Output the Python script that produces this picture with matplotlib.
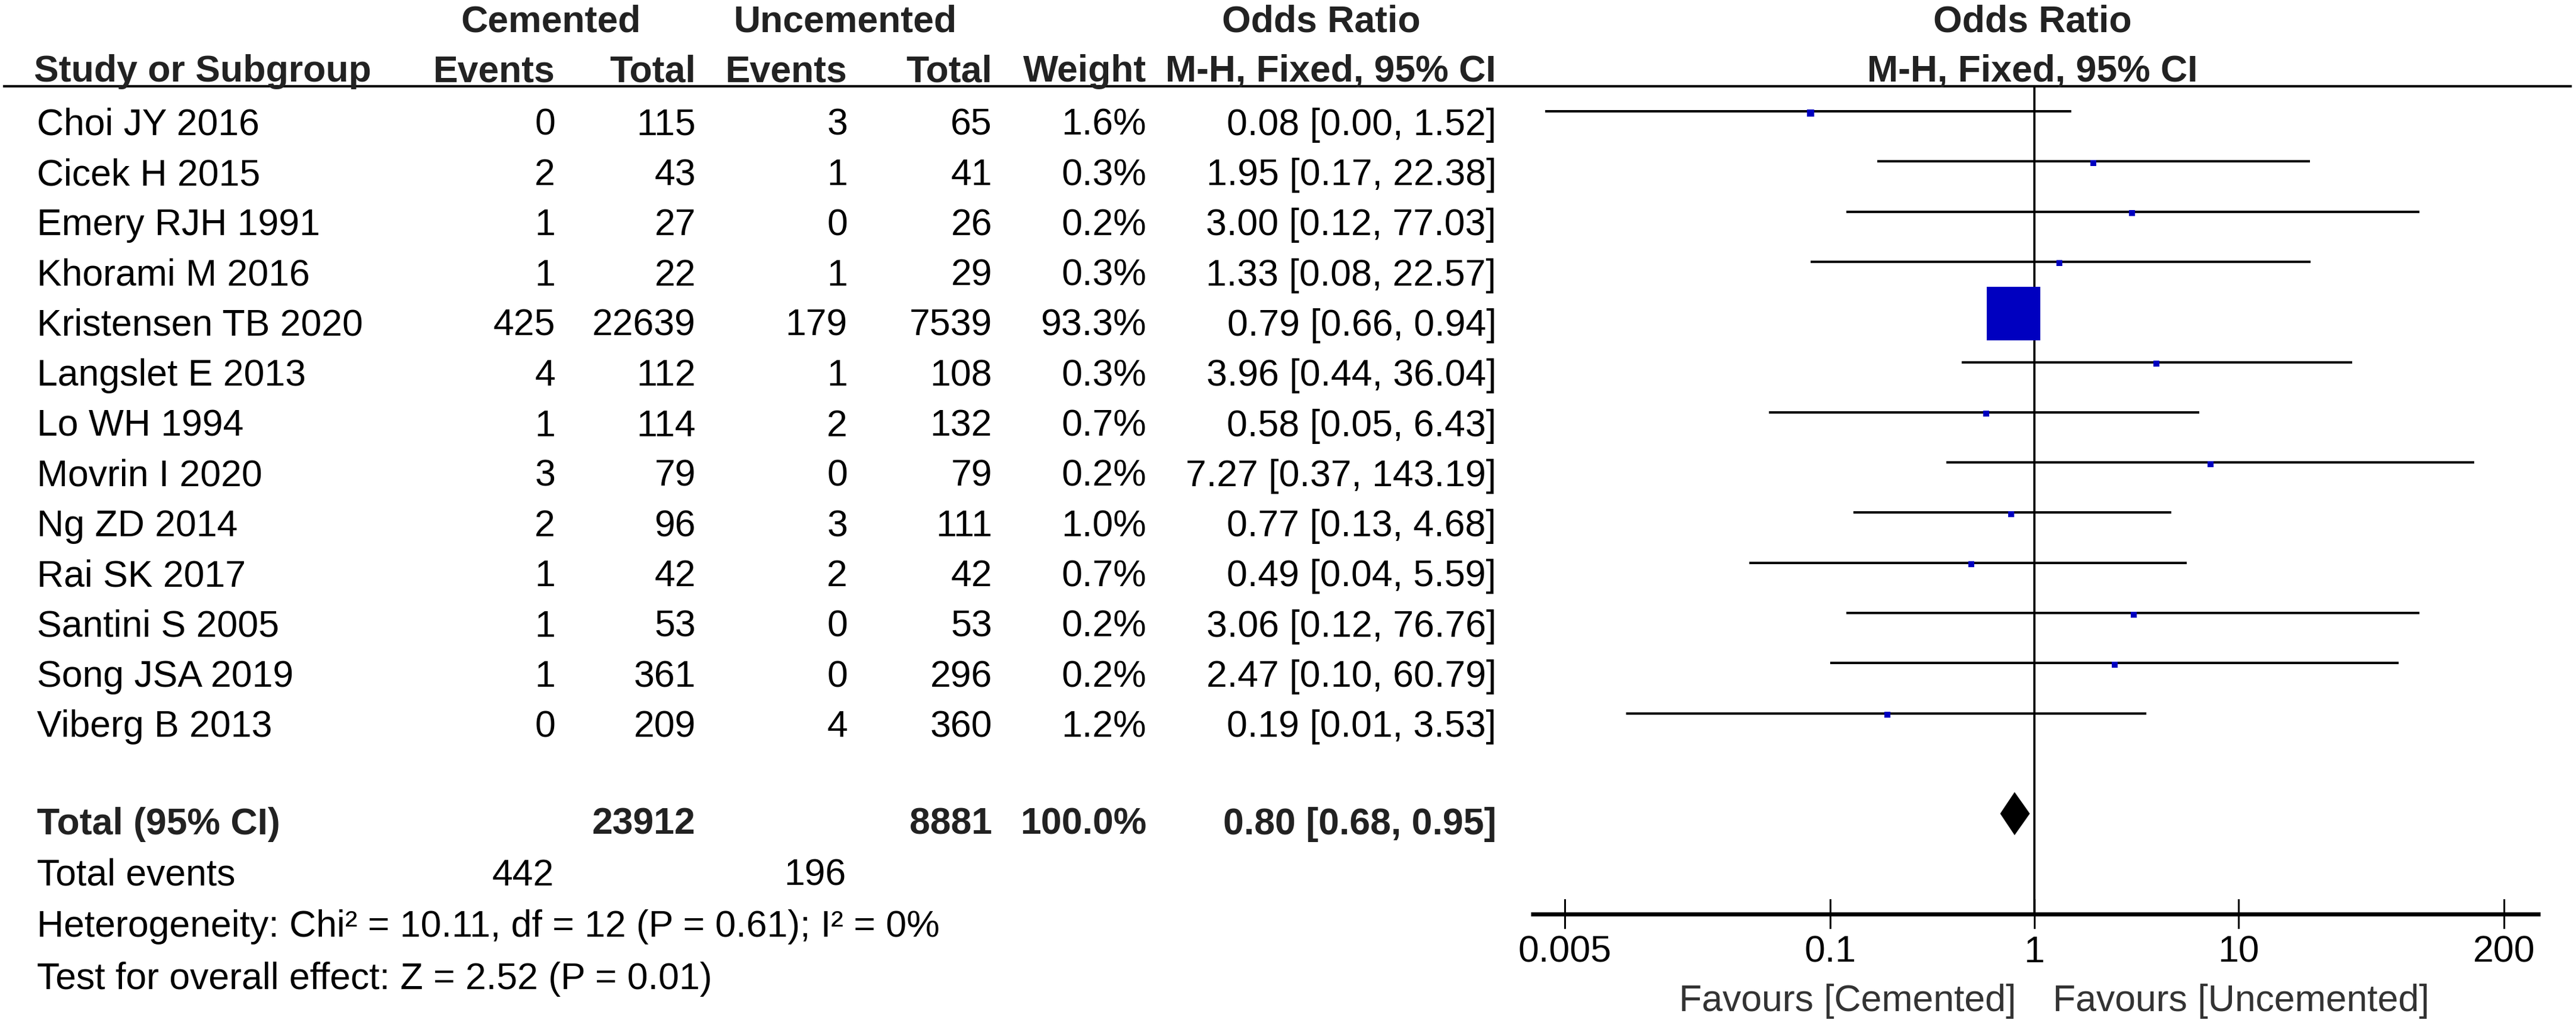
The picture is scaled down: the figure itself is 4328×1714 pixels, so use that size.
import numpy as np
import matplotlib.pyplot as plt

plt.rcParams['font.family'] = ['Liberation Sans', 'DejaVu Sans']

# ---- values ----
studies = ["Choi JY 2016", "Cicek H 2015", "Emery RJH 1991", "Khorami M 2016",
           "Kristensen TB 2020", "Langslet E 2013", "Lo WH 1994", "Movrin I 2020",
           "Ng ZD 2014", "Rai SK 2017", "Santini S 2005", "Song JSA 2019",
           "Viberg B 2013"]
cem_events = [0, 2, 1, 1, 425, 4, 1, 3, 2, 1, 1, 1, 0]
cem_total = [115, 43, 27, 22, 22639, 112, 114, 79, 96, 42, 53, 361, 209]
unc_events = [3, 1, 0, 1, 179, 1, 2, 0, 3, 2, 0, 0, 4]
unc_total = [65, 41, 26, 29, 7539, 108, 132, 79, 111, 42, 53, 296, 360]
weight = [1.6, 0.3, 0.2, 0.3, 93.3, 0.3, 0.7, 0.2, 1.0, 0.7, 0.2, 0.2, 1.2]
odds = [0.08, 1.95, 3.00, 1.33, 0.79, 3.96, 0.58, 7.27, 0.77, 0.49, 3.06, 2.47, 0.19]
ci_lo = [0.004, 0.17, 0.12, 0.08, 0.66, 0.44, 0.05, 0.37, 0.13, 0.04, 0.12, 0.10, 0.01]
ci_hi = [1.52, 22.38, 77.03, 22.57, 0.94, 36.04, 6.43, 143.19, 4.68, 5.59, 76.76, 60.79, 3.53]

total_cem = 23912
total_unc = 8881
total_weight = 100.0
pooled = [0.80, 0.68, 0.95]
events_cem = 442
events_unc = 196
het_text = "Heterogeneity: Chi\u00b2 = 10.11, df = 12 (P = 0.61); I\u00b2 = 0%"
effect_text = "Test for overall effect: Z = 2.52 (P = 0.01)"
ticks = [0.005, 0.1, 1, 10, 200]
fav_left = "Favours [Cemented]"
fav_right = "Favours [Uncemented]"

# ---- layout (pixels) ----
W, H, DPI = 4328, 1715, 100
FS = 45
Y0, ROW = 188, 84.3          # pixel y of first study line, row pitch
TXT = 0.46                   # baseline offset below the row line (rows)
ylim = ((H - Y0) / ROW, -Y0 / ROW)

fig = plt.figure(figsize=(W / DPI, H / DPI), dpi=DPI)
fig.patch.set_facecolor('white')

tab = fig.add_axes([0, 0, 1, 1])
tab.set_xlim(0, W)
tab.set_ylim(*ylim)
tab.axis('off')


def cell(x, y, s, ha='right', bold=False, color='black'):
    tab.text(x, y, s, ha=ha, va='baseline', fontsize=FS,
             fontweight='bold' if bold else 'normal', color=color)


HDR = '#222222'
# header rows
cell(926, -1.59, "Cemented", ha='center', bold=True, color=HDR)
cell(1420, -1.59, "Uncemented", ha='center', bold=True, color=HDR)
cell(2220, -1.59, "Odds Ratio", ha='center', bold=True, color=HDR)
cell(3415, -1.59, "Odds Ratio", ha='center', bold=True, color=HDR)
cell(57, -0.6, "Study or Subgroup", ha='left', bold=True, color=HDR)
cell(933, -0.6, "Events", bold=True, color=HDR)
cell(1169, -0.6, "Total", bold=True, color=HDR)
cell(1424, -0.6, "Events", bold=True, color=HDR)
cell(1667, -0.6, "Total", bold=True, color=HDR)
cell(1926, -0.6, "Weight", bold=True, color=HDR)
cell(2514, -0.6, "M-H, Fixed, 95% CI", bold=True, color=HDR)
cell(3415, -0.6, "M-H, Fixed, 95% CI", ha='center', bold=True, color=HDR)
tab.plot([5, 4321], [-0.5, -0.5], color='black', lw=2.9, solid_capstyle='butt')

# study rows
for i, name in enumerate(studies):
    y = i + TXT
    cell(62, y, name, ha='left')
    cell(933, y, str(cem_events[i]))
    cell(1169, y, str(cem_total[i]))
    cell(1424, y, str(unc_events[i]))
    cell(1667, y, str(unc_total[i]))
    cell(1926, y, f"{weight[i]:.1f}%")
    cell(2514, y, f"{odds[i]:.2f} [{ci_lo[i]:.2f}, {ci_hi[i]:.2f}]")

# totals and notes
r_tot = len(studies) + 1
cell(62, r_tot + 0.4, "Total (95% CI)", ha='left', bold=True, color=HDR)
cell(1169, r_tot + 0.4, str(total_cem), bold=True, color=HDR)
cell(1667, r_tot + 0.4, str(total_unc), bold=True, color=HDR)
cell(1926, r_tot + 0.4, f"{total_weight:.1f}%", bold=True, color=HDR)
cell(2514, r_tot + 0.4, f"{pooled[0]:.2f} [{pooled[1]:.2f}, {pooled[2]:.2f}]",
     bold=True, color=HDR)
cell(62, r_tot + 1.42, "Total events", ha='left')
cell(931, r_tot + 1.42, str(events_cem))
cell(1422, r_tot + 1.42, str(events_unc))
cell(62, r_tot + 2.44, het_text, ha='left')
cell(62, r_tot + 3.48, effect_text, ha='left')

# ---- forest panel (log scale) ----
x_left, x_right, x_one, dec = 2572, 4268, 3418, 343
fa = fig.add_axes([x_left / W, 0, (x_right - x_left) / W, 1])
fa.set_xscale('log')
xmin, xmax = 10 ** (-(x_one - x_left) / dec), 10 ** ((x_right - x_one) / dec)
fa.set_xlim(xmin, xmax)
fa.set_ylim(*ylim)
fa.axis('off')

r_axis = r_tot + 2
fa.plot([1, 1], [-0.5, r_axis], color='black', lw=2.6, zorder=1)

wmax = max(weight)
for i in range(len(studies)):
    fa.plot([ci_lo[i], ci_hi[i]], [i, i], color='black', lw=2.9,
            solid_capstyle='butt', zorder=2)
    side = max(10, 90 * np.sqrt(weight[i] / wmax))
    fa.plot(odds[i], i + 0.03, marker='s', ms=side * 72 / DPI, mew=0,
            color='#0000C0', zorder=3)

# pooled diamond
fa.fill([pooled[1], pooled[0], pooled[2], pooled[0]],
        [r_tot, r_tot - 0.43, r_tot, r_tot + 0.43], color='black', lw=0, zorder=3)

# x axis
fa.plot([xmin, xmax], [r_axis, r_axis], color='black', lw=5,
        solid_capstyle='butt', clip_on=False)
for t in ticks:
    fa.plot([t, t], [r_axis - 0.28, r_axis + 0.28], color='black', lw=2.2,
            clip_on=False)
    fa.text(t, r_axis + 0.95, f"{t:g}", ha='center', va='baseline',
            fontsize=FS, color='black')

cell(3387, r_axis + 1.92, fav_left, color='#333333')
cell(3449, r_axis + 1.92, fav_right, ha='left', color='#333333')

fig.savefig('out.png', dpi=DPI, facecolor='white')
